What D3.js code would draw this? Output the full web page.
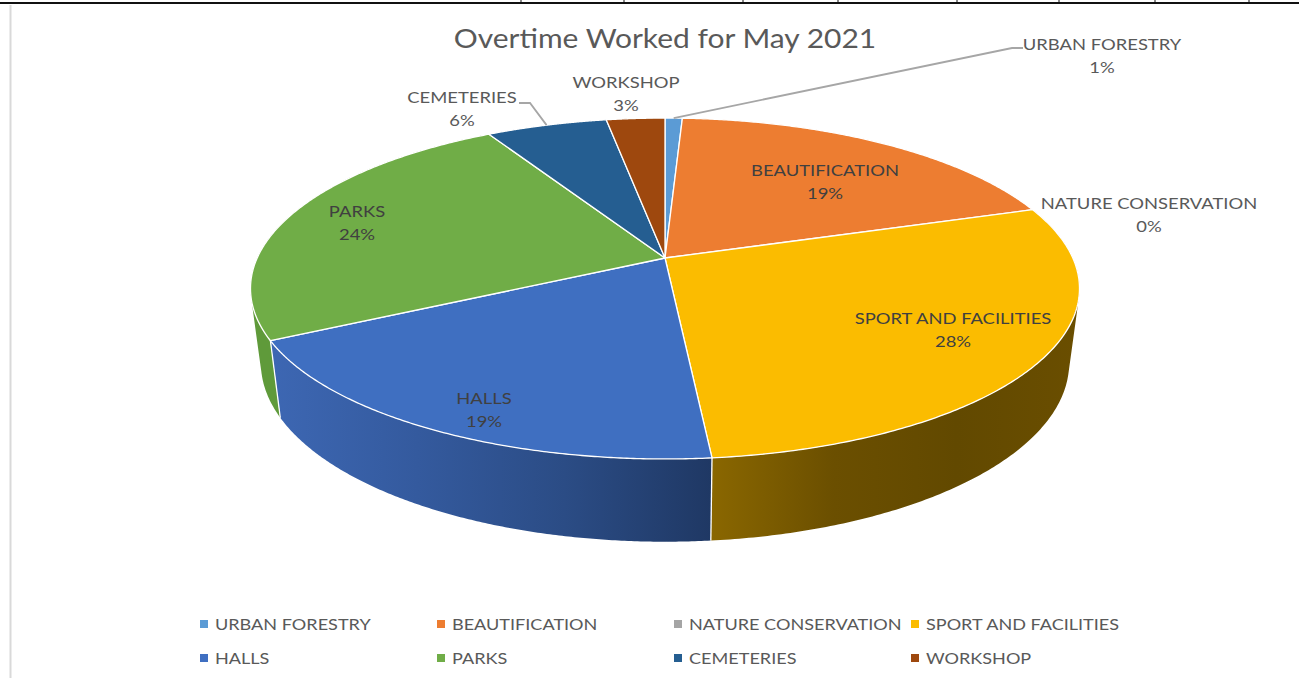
<!DOCTYPE html>
<html>
<head>
<meta charset="utf-8">
<script src="https://cdn.jsdelivr.net/npm/d3@7"></script>
<style>
html,body{margin:0;padding:0;background:#fff;overflow:hidden}
text{font-family:Lato,"Open Sans",sans-serif}
</style>
</head>
<body>
<svg id="chart" width="1299" height="678"></svg>
<script>
// Overtime share per section, in percent
const categories = ["URBAN FORESTRY","BEAUTIFICATION","NATURE CONSERVATION","SPORT AND FACILITIES","HALLS","PARKS","CEMETERIES","WORKSHOP"];
const shares = [0.8,19.2,0,28.49,18.9,24.3,5.6,2.71];
const colours = ["#5b9bd5","#ed7d31","#a5a5a5","#fbbc00","#3f6fc1","#70ad47","#255e91","#9e480e"];
const chartTitle = "Overtime Worked for May 2021";

// Label centres, by category order
const labelX = [1102,825,1149,953,484,357,462,626];
const labelY = [44,170,203,318,398,211,97,82];
// Side-wall shading, left to right, for the slices whose wall faces the viewer
const wallShades = {
  3:["#8a6700","#6b4f00","#624900","#6a4e00"],
  4:["#3d67b3","#345a9e","#2b4c85","#1f3864"],
  5:["#5f9a3a","#5f9a3a","#5f9a3a","#5f9a3a"]
};

const svg = d3.select("#chart");
const defs = svg.append("defs");

// Tilted-disc projection: the disc centre sits above the ellipse centre
const tilt = 0.179;
const sx = d3.scaleLinear().domain([-1,1]).range([665-407.8,665+407.8]);
const syTop = d3.scaleLinear().domain([-1,1]).range([258-165,258+165]);
const sxLow = d3.scaleLinear().domain([-1,1]).range([665-397.6,665+397.6]);
const syLow = d3.scaleLinear().domain([-1,1]).range([331-173,331+173]);

function project(angle, r, xs, ys){
  const X = r*Math.sin(angle), Y = -r*Math.cos(angle), w = 1-tilt*Y;
  return [xs(X/w), ys(Y/w)];
}
const upperRim = (a,r=1)=>project(a,r,sx,syTop);
const lowerRim = (a)=>project(a,1,sxLow,syLow);
const arcAngles = (a0,a1)=>d3.range(0,181).map(i=>a0+(a1-a0)*i/180);
const pathLine = d3.line();

// Text is drawn slightly widened, the way the sheet's chart renders it
const labelStretch = 1.15, legendStretch = 1.13, titleStretch = 1.11;
function stretchedText(parent,x,y,str,stretch){
  return parent.append("text").attr("transform",`translate(${x},${y}) scale(${stretch},1)`).text(str);
}

const slices = d3.pie().sort(null).value(d=>d)(shares);

// Background furniture: ruled line and chart frame edge
svg.append("line").attr("x1",0).attr("x2",1299).attr("y1",3).attr("y2",3).attr("stroke","#111").attr("stroke-width",2);
[521,624,743,838,957,1059,1155,1249].forEach(x=>{
  svg.append("line").attr("x1",x).attr("x2",x).attr("y1",0).attr("y2",3).attr("stroke","#111").attr("stroke-width",1);
});
svg.append("line").attr("x1",10.5).attr("x2",10.5).attr("y1",5).attr("y2",678).attr("stroke","#d9d9d9").attr("stroke-width",2);

// Title
stretchedText(svg,665,48,chartTitle,titleStretch).attr("text-anchor","middle")
  .attr("font-size",27).attr("fill","#595959");

// Side walls: one quad per rim segment, all wound the same way, so the
// silhouette follows the rim-to-rim edges without holes near the tangent
Object.keys(wallShades).forEach(k=>{
  const i = +k, s = slices[i];
  const angles = arcAngles(s.startAngle,s.endAngle);
  const upper = angles.map(a=>upperRim(a));
  const lower = angles.map(lowerRim);
  const [x0,x1] = d3.extent(upper.concat(lower),p=>p[0]);
  const id = "wall"+i;
  const grad = defs.append("linearGradient").attr("id",id).attr("gradientUnits","userSpaceOnUse")
    .attr("x1",x0).attr("x2",x1).attr("y1",0).attr("y2",0);
  wallShades[k].forEach((c,j,arr)=>grad.append("stop").attr("offset",j/(arr.length-1)).attr("stop-color",c));
  const quads = d3.range(angles.length-1).map(j=>{
    const q = [upper[j],upper[j+1],lower[j+1],lower[j]];
    return pathLine(d3.polygonArea(q)<0 ? q.reverse() : q)+"Z";
  }).join("");
  svg.append("path").attr("d",quads).attr("fill",`url(#${id})`);
});
// White seams between neighbouring walls
[3,4].forEach(i=>{
  const a = slices[i].endAngle;
  svg.append("path").attr("d",pathLine([upperRim(a),lowerRim(a)])).attr("stroke","#fff").attr("stroke-width",1.3);
});

// Top faces
svg.append("g").selectAll("path")
  .data(slices.filter(s=>s.endAngle>s.startAngle))
  .join("path")
  .attr("d",s=>{
    const c = upperRim(0,0);
    return pathLine([c].concat(arcAngles(s.startAngle,s.endAngle).map(a=>upperRim(a))))+"Z";
  })
  .attr("fill",s=>colours[s.index])
  .attr("stroke","#fff").attr("stroke-width",1.3).attr("stroke-linejoin","round");

// Leader lines
function leader(index, elbowA, elbowB){
  const s = slices[index], m = (s.startAngle+s.endAngle)/2;
  svg.append("path").attr("d",pathLine([elbowA,elbowB,upperRim(m)]))
    .attr("fill","none").attr("stroke","#a6a6a6").attr("stroke-width",1.8);
}
leader(0,[1023,48],[1012,48]);
leader(6,[519,103],[530,103]);

// Data labels
const pct = d3.format(".0f");
categories.forEach((c,i)=>{
  const inside = [1,3,4,5].includes(i);
  const g = svg.append("g").attr("text-anchor","middle").attr("font-size",16)
    .attr("fill",inside?"#404040":"#595959");
  stretchedText(g,labelX[i],labelY[i]+5.5,c,labelStretch);
  stretchedText(g,labelX[i],labelY[i]+28.5,pct(shares[i])+"%",labelStretch);
});

// Legend, four columns by two rows
const legendX = d3.scalePoint().domain(d3.range(4)).range([200,911]);
const legendY = d3.scalePoint().domain(d3.range(2)).range([624,658]);
categories.forEach((c,i)=>{
  const g = svg.append("g").attr("transform",`translate(${legendX(i%4)},${legendY(Math.floor(i/4))})`);
  g.append("rect").attr("x",0).attr("y",-4).attr("width",8).attr("height",8).attr("fill",colours[i]);
  stretchedText(g,15,5.5,c,legendStretch).attr("font-size",16).attr("fill","#595959");
});
</script>
</body>
</html>
